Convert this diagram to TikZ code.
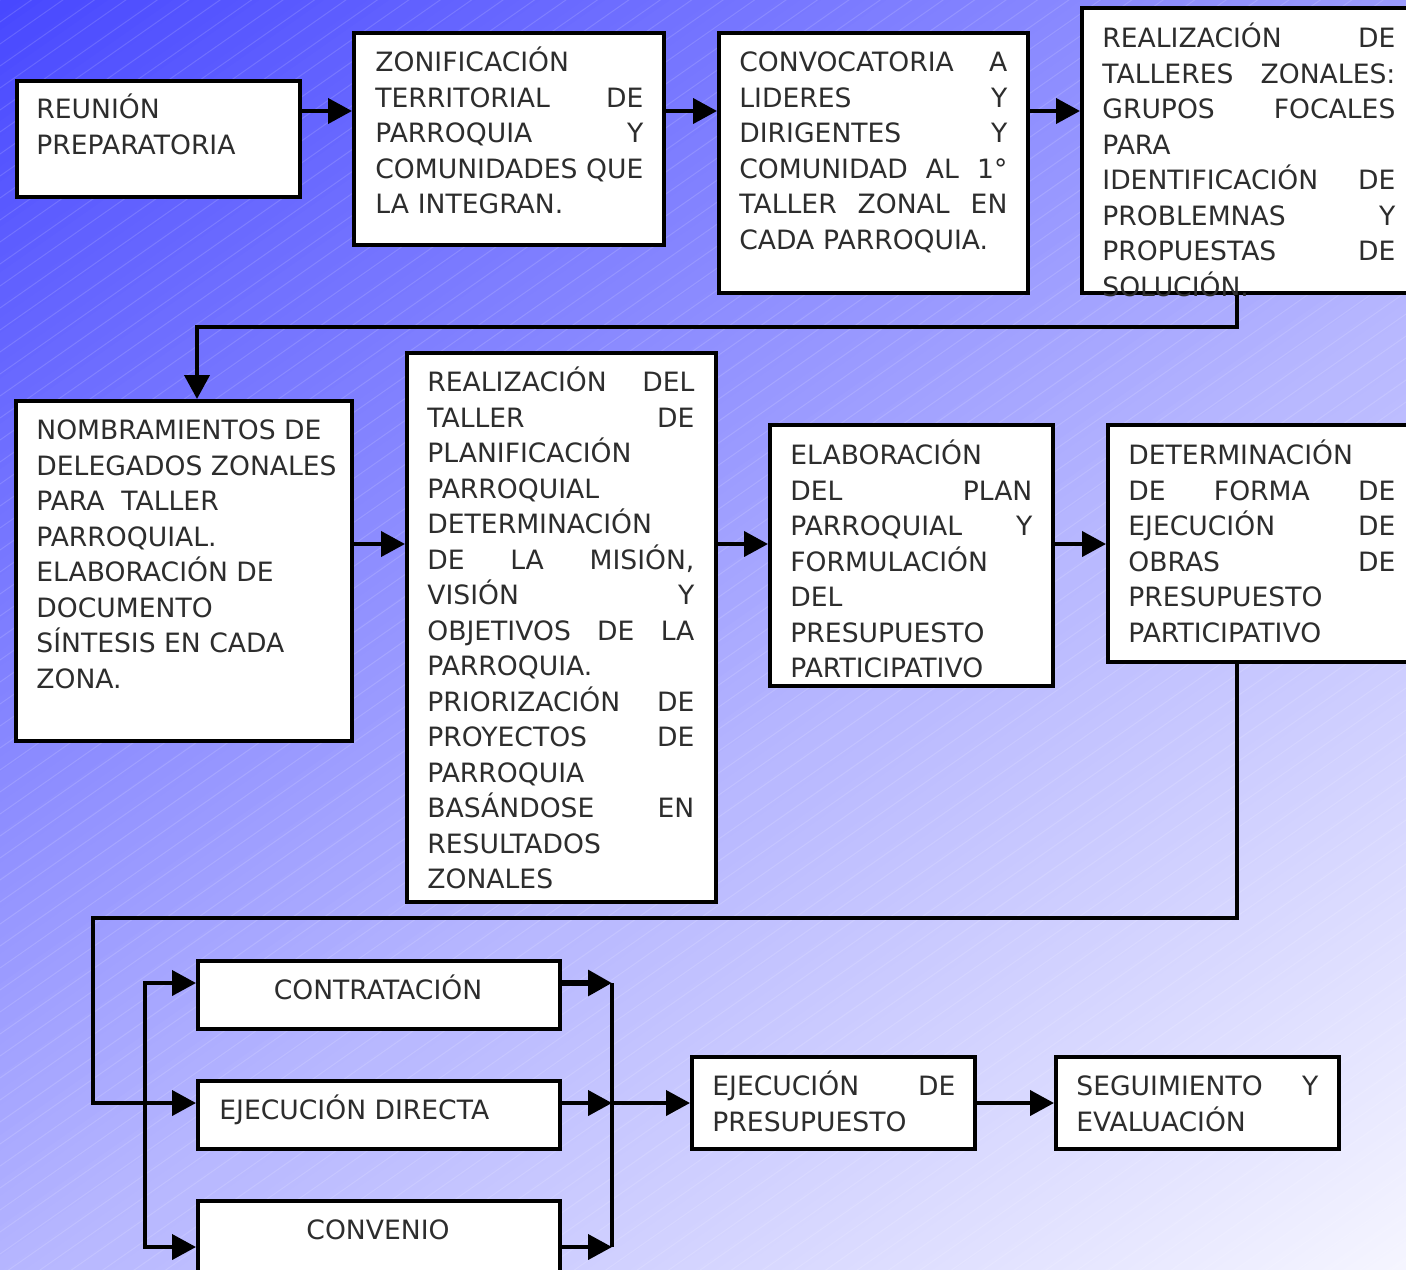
\documentclass[tikz,border=0pt]{standalone}
\usepackage{fontspec}
\setmainfont{DejaVu Sans}
\usetikzlibrary{arrows.meta,calc}
\definecolor{txtc}{RGB}{45,45,45}
\newcommand\fsz{\fontsize{13.3pt}{17.75pt}\selectfont}
\newcommand\mystrut{\rule{0pt}{14pt}}
\begin{document}
\begin{tikzpicture}[x=0.5pt,y=-0.5pt,
  box/.style={draw=black,line width=2.2pt,fill=white,anchor=north west,inner sep=0pt},
  tx/.style={inner sep=0pt,anchor=north west,align=left,text=txtc,font=\fsz},
  arr/.style={line width=2pt,-{Triangle[length=12pt,width=12.5pt]}},
  ln/.style={line width=2pt}]
\useasboundingbox (0,0) rectangle (1406,1269);
\clip (0,0) rectangle (1406,1269);
% background gradient
\foreach \i in {0,...,149}{
  \pgfmathsetmacro\pa{\i*12.4}
  \pgfmathsetmacro\pb{\pa+14}
  \pgfmathsetmacro\pc{\pa+6.2}
  \pgfmathtruncatemacro\vv{\pc<1035 ? 72+0.105*\pc : min(181+0.0801*(\pc-1035),250)}
  \definecolor{bandc}{RGB}{\vv,\vv,255}
  \fill[bandc] ({\pa*0.5736-2458},{\pa*0.8192+1721}) -- ({\pa*0.5736+2458},{\pa*0.8192-1721}) -- ({\pb*0.5736+2458},{\pb*0.8192-1721}) -- ({\pb*0.5736-2458},{\pb*0.8192+1721}) -- cycle;
}
\foreach \c in {0,22,...,2260}
  \draw[white,opacity=0.14,line width=0.5pt] (0,\c) -- (1406,{\c-984});

% boxes (anchored at outer corner)
\node[box,minimum width=141.5pt,minimum height=58pt] (b1) at (15,79) {};
\node[box,minimum width=155pt,minimum height=106pt] (b2) at (352,31) {};
\node[box,minimum width=154.5pt,minimum height=130pt] (b3) at (717,31) {};
\node[box,minimum width=170pt,minimum height=142.5pt] (b4) at (1080,6) {};
\node[box,minimum width=168pt,minimum height=170pt] (b5) at (14,399) {};
\node[box,minimum width=154.5pt,minimum height=274.5pt] (b6) at (405,351) {};
\node[box,minimum width=141.5pt,minimum height=130.5pt] (b7) at (768,423) {};
\node[box,minimum width=160pt,minimum height=118.5pt] (b8) at (1106,423) {};
\node[box,minimum width=181pt,minimum height=34pt] (con) at (196,959) {};
\node[box,minimum width=181pt,minimum height=34pt] (dir) at (196,1079) {};
\node[box,minimum width=181pt,minimum height=40pt] (cnv) at (196,1199) {};
\node[box,minimum width=141.5pt,minimum height=46pt] (ejp) at (690,1055) {};
\node[box,minimum width=141.5pt,minimum height=46pt] (seg) at (1054,1055) {};

% texts
\node[tx] (t1) at (36,90.5) {\mystrut REUNIÓN\\PREPARATORIA};
\node[tx,text width=134pt] (t2) at (375,43.5) {\mystrut ZONIFICACIÓN\\
TERRITORIAL\hfill DE\\
PARROQUIA\hfill Y\\
COMUNIDADES\hfill QUE\\
LA INTEGRAN.};
\node[tx,text width=134pt] (t3) at (739,43.5) {\mystrut CONVOCATORIA\hfill A\\
LIDERES\hfill Y\\
DIRIGENTES\hfill Y\\
COMUNIDAD\hfill AL\hfill 1°\\
TALLER\hfill ZONAL\hfill EN\\
CADA PARROQUIA.};
\node[tx,text width=146.5pt] (t4) at (1102,19.5) {\mystrut REALIZACIÓN\hfill DE\\
TALLERES\hfill ZONALES:\\
GRUPOS\hfill FOCALES\\
PARA\\
IDENTIFICACIÓN\hfill DE\\
PROBLEMNAS\hfill Y\\
PROPUESTAS\hfill DE\\
SOLUCIÓN.};
\node[tx] (t5) at (36,411.5) {\mystrut NOMBRAMIENTOS DE\\
DELEGADOS ZONALES\\
PARA\ \ TALLER\\
PARROQUIAL.\\
ELABORACIÓN DE\\
DOCUMENTO\\
SÍNTESIS EN CADA\\
ZONA.};
\node[tx,text width=133.5pt] (t6) at (427,363.5) {\mystrut REALIZACIÓN\hfill DEL\\
TALLER\hfill DE\\
PLANIFICACIÓN\\
PARROQUIAL\\
DETERMINACIÓN\\
DE\hfill LA\hfill MISIÓN,\\
VISIÓN\hfill Y\\
OBJETIVOS\hfill DE\hfill LA\\
PARROQUIA.\\
PRIORIZACIÓN\hfill DE\\
PROYECTOS\hfill DE\\
PARROQUIA\\
BASÁNDOSE\hfill EN\\
RESULTADOS\\
ZONALES};
\node[tx,text width=121pt] (t7) at (790,436.5) {\mystrut ELABORACIÓN\\
DEL\hfill PLAN\\
PARROQUIAL\hfill Y\\
FORMULACIÓN\\
DEL\\
PRESUPUESTO\\
PARTICIPATIVO};
\node[tx,text width=133.5pt] (t8) at (1128,436.5) {\mystrut DETERMINACIÓN\\
DE\hfill FORMA\hfill DE\\
EJECUCIÓN\hfill DE\\
OBRAS\hfill DE\\
PRESUPUESTO\\
PARTICIPATIVO};
\node[tx,anchor=north] (tc) at (378,971.5) {\mystrut CONTRATACIÓN};
\node[tx] (td) at (219,1091.5) {\mystrut EJECUCIÓN DIRECTA};
\node[tx,anchor=north] (tv) at (378,1211.5) {\mystrut CONVENIO};
\node[tx,text width=121.5pt] (te) at (712,1067.5) {\mystrut EJECUCIÓN\hfill DE\\PRESUPUESTO};
\node[tx,text width=121pt] (ts) at (1076,1067.5) {\mystrut SEGUIMIENTO\hfill Y\\EVALUACIÓN};

% connectors
\coordinate (r1) at (0,111);
\coordinate (r2) at (0,544);
\coordinate (r3) at (0,1103);
\coordinate (k1) at (1237,327);
\coordinate (k2) at (197,327);
\coordinate (k3) at (1237,918);
\coordinate (k4) at (93,918);
\coordinate (lb1) at (145,983);
\coordinate (lb2) at (145,1247);
\coordinate (rb1) at (612,983);
\coordinate (rb2) at (612,1247);
\coordinate (rb3) at (612,1103);

\draw[arr] (b1.east |- r1) -- (b2.west |- r1);
\draw[arr] (b2.east |- r1) -- (b3.west |- r1);
\draw[arr] (b3.east |- r1) -- (b4.west |- r1);
\draw[arr] (k1 |- b4.south) -- (k1) -- (k2) -- (k2 |- b5.north);
\draw[arr] (b5.east |- r2) -- (b6.west |- r2);
\draw[arr] (b6.east |- r2) -- (b7.west |- r2);
\draw[arr] (b7.east |- r2) -- (b8.west |- r2);
\draw[arr] (k3 |- b8.south) -- (k3) -- (k4) -- (k4 |- r3) -- (dir.west |- r3);
\draw[line width=2pt,{Triangle[length=12pt,width=12.5pt]}-{Triangle[length=12pt,width=12.5pt]}]
  (con.west |- lb1) -- (lb1) -- (lb2) -- (cnv.west |- lb2);
\draw[ln] (rb1) -- (rb2);
\draw[arr,line width=3pt] (con.east |- rb1) -- (rb1);
\draw[arr] (dir.east |- rb3) -- (rb3);
\draw[arr] (cnv.east |- rb2) -- (rb2);
\draw[arr] (rb3) -- (ejp.west |- r3);
\draw[arr] (ejp.east |- r3) -- (seg.west |- r3);
\end{tikzpicture}
\end{document}
